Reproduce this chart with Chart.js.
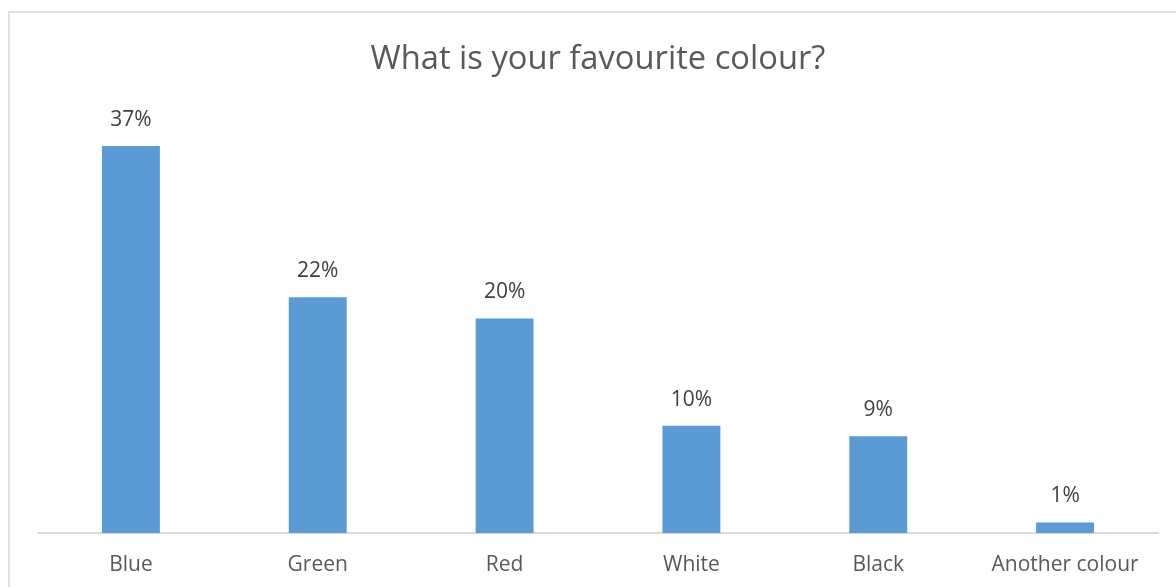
<!DOCTYPE html>
<html>
<head>
<meta charset="utf-8">
<script src="https://cdn.jsdelivr.net/npm/chart.js@4/dist/chart.umd.min.js"></script>
<style>
  html, body { margin: 0; padding: 0; background: #fff; overflow: hidden; }
  #frame { position: absolute; left: 8px; top: 11px; width: 1300px; height: 700px; border: 2px solid #e0e0e0; }
  #chart { position: absolute; left: 0; top: 0; }
</style>
</head>
<body>
<div id="frame"></div>
<canvas id="chart" width="1176" height="587"></canvas>
<script>
// 数据
const categories = ["Blue", "Green", "Red", "White", "Black", "Another colour"];
const shares = [36.8, 22.4, 20.4, 10.2, 9.2, 1.0];

// 柱顶百分比标签
const barLabels = {
  id: "barLabels",
  afterDatasetsDraw(chart) {
    const ctx = chart.ctx;
    const meta = chart.getDatasetMeta(0);
    ctx.save();
    ctx.font = "21px 'Open Sans'";
    ctx.fillStyle = "#404040";
    ctx.textAlign = "center";
    ctx.textBaseline = "middle";
    meta.data.forEach((bar, i) => {
      ctx.fillText(Math.round(shares[i]) + "%", bar.x, bar.y - 26);
    });
    ctx.restore();
  }
};

new Chart(document.getElementById("chart"), {
  type: "bar",
  data: {
    labels: categories,
    datasets: [{
      data: shares,
      backgroundColor: "#5B9BD5",
      categoryPercentage: 1,
      barPercentage: 0.31
    }]
  },
  options: {
    responsive: false,
    animation: false,
    layout: { padding: { left: 37.5, right: 17.5, top: 0, bottom: 0 } },
    plugins: {
      legend: { display: false },
      tooltip: { enabled: false },
      title: {
        display: true,
        text: "What is your favourite colour?",
        color: "#595959",
        font: { family: "'Open Sans'", size: 32.7, weight: "normal", lineHeight: 1.2 },
        padding: { top: 40, bottom: 33 }
      }
    },
    scales: {
      x: {
        grid: { display: false, drawTicks: false },
        border: { display: true, color: "#d9d9d9", width: 2 },
        ticks: { color: "#595959", padding: 19, font: { family: "'Open Sans'", size: 21, lineHeight: 1.2 } },
        afterFit(scale) { scale.height = 54; }
      },
      y: { display: false, min: 0, max: 40 }
    }
  },
  plugins: [barLabels]
});
</script>
</body>
</html>
